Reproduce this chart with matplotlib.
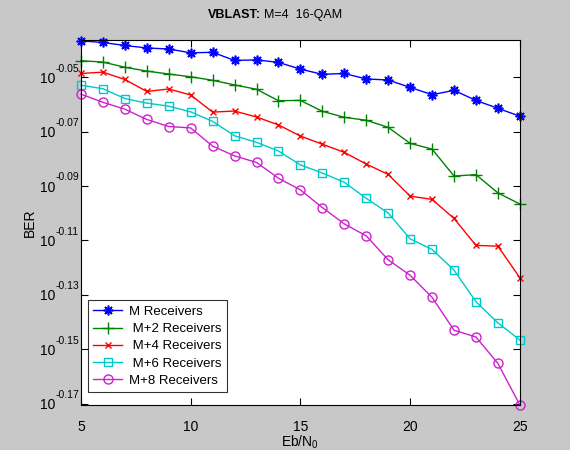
import numpy as np
import matplotlib
matplotlib.use("Agg")
import matplotlib.pyplot as plt

plt.rcParams['font.family'] = ['Liberation Sans', 'DejaVu Sans']
plt.rcParams['mathtext.fontset'] = 'custom'
plt.rcParams['mathtext.rm'] = 'Liberation Sans'
plt.rcParams['mathtext.it'] = 'Liberation Sans'
plt.rcParams['mathtext.bf'] = 'Liberation Sans:bold'

ebn0 = list(range(5, 26))

# log10(BER)
exp_M = [-0.0366, -0.0372, -0.0383, -0.0392, -0.0396, -0.0410, -0.0408, -0.0438, -0.0436, -0.0445,
         -0.0470, -0.0489, -0.0486, -0.0506, -0.0510, -0.0537, -0.0564, -0.0548, -0.0585, -0.0614, -0.0643]
exp_M2 = [-0.0439, -0.0444, -0.0463, -0.0477, -0.0488, -0.0498, -0.0511, -0.0528, -0.0544, -0.0586,
          -0.0585, -0.0625, -0.0647, -0.0658, -0.0684, -0.0743, -0.0764, -0.0863, -0.0858, -0.0925, -0.0966]
exp_M4 = [-0.0486, -0.0481, -0.0508, -0.0552, -0.0543, -0.0565, -0.0628, -0.0624, -0.0646, -0.0675,
          -0.0716, -0.0746, -0.0776, -0.0819, -0.0857, -0.0937, -0.0949, -0.1019, -0.1118, -0.1121, -0.1237]
exp_M6 = [-0.0529, -0.0542, -0.0578, -0.0595, -0.0606, -0.0627, -0.0662, -0.0715, -0.0739, -0.0771,
          -0.0822, -0.0852, -0.0886, -0.0945, -0.0999, -0.1094, -0.1133, -0.1209, -0.1325, -0.1403, -0.1466]
exp_M8 = [-0.0562, -0.0592, -0.0617, -0.0655, -0.0681, -0.0686, -0.0753, -0.0789, -0.0813, -0.0871,
          -0.0914, -0.0979, -0.1039, -0.1083, -0.1171, -0.1228, -0.1309, -0.1430, -0.1455, -0.1552, -0.1705]

labels = ['M Receivers', ' M+2 Receivers', ' M+4 Receivers', ' M+6 Receivers', 'M+8 Receivers']
ytick_exps = [-0.05, -0.07, -0.09, -0.11, -0.13, -0.15, -0.17]
xticks = [5, 10, 15, 20, 25]

fig = plt.figure(figsize=(5.7, 4.5), dpi=100, facecolor='#c8c8c8')
ax = fig.add_axes([0.142, 0.1, 0.77, 0.811])
ax.set_facecolor('white')

series = [exp_M, exp_M2, exp_M4, exp_M6, exp_M8]
styles = [dict(color='#0000ff', marker=(8, 2, 0), ms=7, mew=1.2),
          dict(color='#008000', marker='+', ms=8, mew=1),
          dict(color='#ff0000', marker='x', ms=4.5, mew=1),
          dict(color='#00c8c8', marker='s', ms=6, mfc='none', mew=1),
          dict(color='#cc22cc', marker='o', ms=6.5, mfc='none', mew=1)]
for e, st, lab in zip(series, styles, labels):
    ax.plot(ebn0, 10 ** np.array(e), lw=1, label=lab, clip_on=False, **st)

ax.set_yscale('log')
ax.set_xlim(5, 25)
ax.set_ylim(10 ** -0.1705, 10 ** -0.0363)
ax.set_yticks([10 ** v for v in ytick_exps])
ax.set_yticklabels(['10'] * len(ytick_exps))
ax.yaxis.set_minor_locator(matplotlib.ticker.NullLocator())
ax.set_xticks(xticks)
ax.tick_params(direction='in', top=True, right=True, labelsize=10, length=5, width=0.8)
ax.tick_params(axis='x', pad=10.5)
ax.tick_params(axis='y', pad=18.7)
for s in ax.spines.values():
    s.set_linewidth(0.8)

# exponents of the y tick labels
ytrans = ax.get_yaxis_transform()
for v in ytick_exps:
    ax.annotate('%.2f' % v, xy=(0, 10 ** v), xycoords=ytrans,
                xytext=(-18.5, 6.2), textcoords='offset points',
                ha='left', va='center', fontsize=7.5, annotation_clip=False)

ax.set_xlabel(r'Eb/N$_0$', fontsize=10, labelpad=0)
ax.set_ylabel('BER', fontsize=10, labelpad=2)

fig.text(0.458, 0.967, 'VBLAST:', fontsize=9, fontweight='bold', ha='right', va='center')
fig.text(0.464, 0.967, 'M=4  16-QAM', fontsize=9, ha='left', va='center')

leg = ax.legend(loc='lower left', bbox_to_anchor=(0.016, 0.035), fontsize=9.5, frameon=True,
                fancybox=False, edgecolor='black', borderpad=0.4, labelspacing=0.38,
                handlelength=2.2, handletextpad=0.5, borderaxespad=0)
leg.get_frame().set_linewidth(0.8)

fig.savefig('out.png', dpi=100, facecolor=fig.get_facecolor())
